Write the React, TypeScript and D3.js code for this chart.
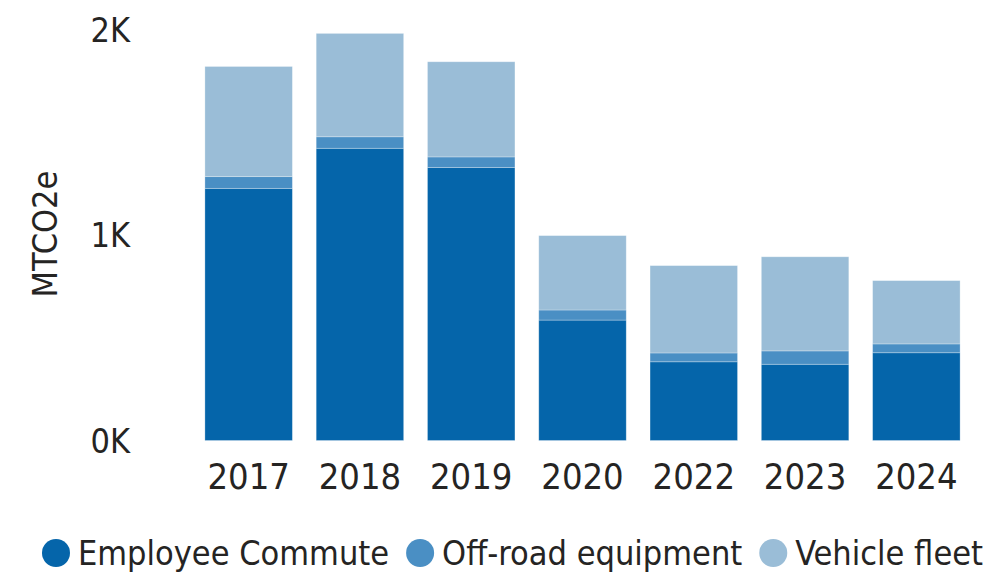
import React, { useEffect, useRef } from "react";
import * as d3 from "d3";

const years = ["2017", "2018", "2019", "2020", "2022", "2023", "2024"];
const seriesNames = ["Employee Commute", "Off-road equipment", "Vehicle fleet"];
const employeeCommute = [1227, 1422, 1329, 586, 383, 371, 427];
const offRoadEquipment = [57, 56, 51, 49, 43, 65, 43];
const vehicleFleet = [536, 503, 463, 362, 425, 458, 308];
const yTicks = [0, 1000, 2000];
const yTickLabels = ["0K", "1K", "2K"];
const yAxisTitle = "MTCO2e";
const colors = ["#0565AA", "#4A8FC4", "#9ABDD7"];

const FONT = "'DejaVu Sans Condensed', 'DejaVu Sans', sans-serif";
const TEXT = "#252423";

export default function App() {
  const ref = useRef<SVGSVGElement | null>(null);

  useEffect(() => {
    const svg = d3.select(ref.current);
    svg.selectAll("*").remove();

    const rows = years.map((y, i) => ({
      year: y,
      "Employee Commute": employeeCommute[i],
      "Off-road equipment": offRoadEquipment[i],
      "Vehicle fleet": vehicleFleet[i],
    }));
    const stacked = d3.stack<any>().keys(seriesNames)(rows);

    const x = d3.scaleBand<string>().domain(years).range([193, 972]).paddingInner(0.214).paddingOuter(0.107);
    const y = d3.scaleLinear().domain([0, 2000]).range([440.5, 29.5]);

    const g = svg.append("g");
    stacked.forEach((layer, li) => {
      g.append("g")
        .selectAll("rect")
        .data(layer)
        .join("rect")
        .attr("x", (d: any) => x(d.data.year)!)
        .attr("width", x.bandwidth())
        .attr("y", (d: any) => y(d[1]))
        .attr("height", (d: any) => y(d[0]) - y(d[1]))
        .attr("fill", colors[li])
        .attr("stroke", "#ffffff")
        .attr("stroke-opacity", 0.35)
        .attr("stroke-width", 0.8);
    });

    // y tick labels
    svg.append("g")
      .selectAll("text")
      .data(yTicks)
      .join("text")
      .attr("x", 130)
      .attr("y", (d) => y(d))
      .attr("dy", "0.36em")
      .attr("text-anchor", "end")
      .attr("font-family", FONT)
      .attr("font-size", 34)
      .attr("fill", TEXT)
      .text((d, i) => yTickLabels[i]);

    // y title
    svg.append("text")
      .attr("transform", "translate(57,234) rotate(-90)")
      .attr("text-anchor", "middle")
      .attr("font-family", FONT)
      .attr("font-size", 34)
      .attr("fill", TEXT)
      .text(yAxisTitle);

    // x labels
    svg.append("g")
      .selectAll("text")
      .data(years)
      .join("text")
      .attr("x", (d) => x(d)! + x.bandwidth() / 2)
      .attr("y", 489)
      .attr("text-anchor", "middle")
      .attr("font-family", FONT)
      .attr("font-size", 36)
      .attr("fill", TEXT)
      .text((d) => d);

    // legend
    const lg = svg.append("g");
    let cx = 42;
    seriesNames.forEach((name, i) => {
      lg.append("circle")
        .attr("cx", cx + 14)
        .attr("cy", 553)
        .attr("r", 14)
        .attr("fill", colors[i]);
      const t = lg.append("text")
        .attr("x", cx + 36)
        .attr("y", 565)
        .attr("font-family", FONT)
        .attr("font-size", 34)
        .attr("fill", TEXT)
        .text(name);
      const w = (t.node() as SVGTextElement).getComputedTextLength();
      cx = cx + 36 + w + 17;
    });
  }, []);

  return (
    <svg
      ref={ref}
      width={992}
      height={574}
      style={{ position: "absolute", left: 0, top: 0, background: "#ffffff" }}
    />
  );
}
